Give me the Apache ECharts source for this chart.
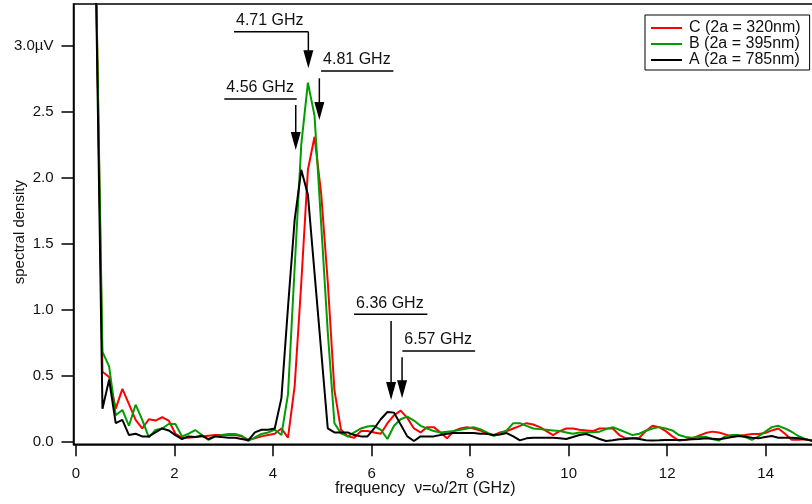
<!DOCTYPE html>
<html>
<head>
<meta charset="utf-8">
<script src="https://cdn.jsdelivr.net/npm/echarts@6/dist/echarts.min.js"></script>
<style>
  html, body { margin: 0; padding: 0; background: #fff; }
  #chart { width: 812px; height: 504px; }
</style>
</head>
<body>
<div id="chart"></div>
<script>
// Frequency grid of the spectra (GHz)
const freq = [
  0.404, 0.538, 0.673, 0.807, 0.942, 1.076, 1.211, 1.345, 1.480, 1.614,
  1.749, 1.883, 2.018, 2.152, 2.287, 2.421, 2.556, 2.690, 2.825, 2.959,
  3.094, 3.228, 3.363, 3.497, 3.632, 3.766, 3.901, 4.035, 4.170, 4.304,
  4.439, 4.573, 4.708, 4.842, 4.977, 5.111, 5.246, 5.380, 5.515, 5.649,
  5.784, 5.918, 6.053, 6.187, 6.322, 6.456, 6.591, 6.725, 6.860, 6.994,
  7.129, 7.263, 7.398, 7.532, 7.667, 7.801, 7.936, 8.070, 8.205, 8.339,
  8.474, 8.608, 8.743, 8.877, 9.012, 9.146, 9.281, 9.415, 9.550, 9.684,
  9.819, 9.953, 10.088, 10.222, 10.357, 10.491, 10.626, 10.760, 10.895, 11.029,
  11.164, 11.298, 11.433, 11.567, 11.702, 11.836, 11.971, 12.105, 12.240, 12.374,
  12.509, 12.643, 12.778, 12.912, 13.047, 13.181, 13.316, 13.450, 13.585, 13.719,
  13.854, 13.988, 14.123, 14.257, 14.392, 14.526, 14.661, 14.795, 14.930, 15.064
];

// Spectral density, sample C (2a = 320 nm)
const densityC = [
  3.6, 0.53, 0.49, 0.25, 0.40, 0.285, 0.165, 0.10, 0.17, 0.16,
  0.185, 0.16, 0.06, 0.03, 0.03, 0.035, 0.04, 0.045, 0.05, 0.05,
  0.05, 0.05, 0.04, 0.015, 0.025, 0.04, 0.05, 0.06, 0.10, 0.03,
  0.42, 1.20, 2.06, 2.31, 1.88, 1.21, 0.39, 0.09, 0.04, 0.03,
  0.08, 0.08, 0.07, 0.06, 0.14, 0.20, 0.235, 0.18, 0.10, 0.07,
  0.11, 0.11, 0.07, 0.025, 0.08, 0.10, 0.11, 0.10, 0.085, 0.06,
  0.05, 0.07, 0.08, 0.10, 0.12, 0.14, 0.13, 0.11, 0.08, 0.05,
  0.08, 0.10, 0.10, 0.09, 0.085, 0.08, 0.10, 0.10, 0.10, 0.05,
  0.025, 0.025, 0.03, 0.08, 0.12, 0.11, 0.08, 0.04, 0.008, 0.015,
  0.025, 0.045, 0.065, 0.076, 0.07, 0.055, 0.04, 0.045, 0.05, 0.058,
  0.058, 0.065, 0.085, 0.10, 0.06, 0.015, 0.015, 0.018, 0.008, 0.005
];

// Spectral density, sample B (2a = 395 nm)
const densityB = [
  3.6, 0.68, 0.57, 0.20, 0.24, 0.12, 0.28, 0.165, 0.033, 0.088,
  0.10, 0.134, 0.134, 0.04, 0.06, 0.088, 0.05, 0.013, 0.04, 0.05,
  0.058, 0.058, 0.045, 0.005, 0.033, 0.058, 0.07, 0.09, 0.05, 0.36,
  1.32, 2.25, 2.72, 2.47, 1.65, 0.83, 0.14, 0.063, 0.04, 0.07,
  0.10, 0.115, 0.12, 0.09, 0.02, 0.12, 0.17, 0.19, 0.16, 0.12,
  0.10, 0.08, 0.07, 0.075, 0.08, 0.09, 0.10, 0.11, 0.095, 0.07,
  0.043, 0.06, 0.085, 0.14, 0.14, 0.12, 0.10, 0.095, 0.09, 0.085,
  0.08, 0.07, 0.06, 0.07, 0.07, 0.072, 0.076, 0.095, 0.11, 0.09,
  0.07, 0.05, 0.06, 0.083, 0.10, 0.11, 0.10, 0.085, 0.05, 0.035,
  0.03, 0.035, 0.038, 0.02, 0.008, 0.04, 0.05, 0.05, 0.035, 0.013,
  0.04, 0.075, 0.11, 0.12, 0.10, 0.075, 0.043, 0.02, 0.008, 0.005
];

// Spectral density, sample A (2a = 785 nm)
const densityA = [
  3.5, 0.25, 0.47, 0.14, 0.165, 0.05, 0.06, 0.04, 0.04, 0.07,
  0.10, 0.085, 0.05, 0.02, 0.04, 0.035, 0.045, 0.02, 0.04, 0.035,
  0.03, 0.03, 0.02, 0.01, 0.07, 0.09, 0.09, 0.10, 0.33, 1.02,
  1.68, 2.06, 1.87, 1.28, 0.69, 0.10, 0.07, 0.07, 0.07, 0.05,
  0.04, 0.04, 0.10, 0.17, 0.225, 0.22, 0.13, 0.04, 0.005, 0.04,
  0.04, 0.04, 0.05, 0.06, 0.065, 0.065, 0.065, 0.065, 0.06, 0.06,
  0.05, 0.055, 0.065, 0.04, 0.01, 0.025, 0.03, 0.03, 0.03, 0.03,
  0.025, 0.02, 0.035, 0.05, 0.058, 0.04, 0.02, 0.005, 0.01, 0.018,
  0.02, 0.025, 0.02, 0.01, 0.008, 0.01, 0.013, 0.013, 0.013, 0.015,
  0.018, 0.02, 0.025, 0.022, 0.018, 0.025, 0.035, 0.043, 0.038, 0.03,
  0.025, 0.035, 0.043, 0.03, 0.03, 0.03, 0.025, 0.018, 0.008, 0.005
];

const seriesNames = ['C (2a = 320nm)', 'B (2a = 395nm)', 'A (2a = 785nm)'];
const xTicks = [0, 2, 4, 6, 8, 10, 12, 14];
const yTicks = [0, 0.5, 1, 1.5, 2, 2.5, 3];
const yTickLabels = ['0.0', '0.5', '1.0', '1.5', '2.0', '2.5', '3.0\u00B5V'];
const peakLabels = ['4.71 GHz', '4.81 GHz', '4.56 GHz', '6.36 GHz', '6.57 GHz'];

// Callout layout in axis units: underline from x0 to x1 at level y,
// arrow at ax running from a0 down to its tip a1.
const calloutLayout = [
  { x0: 3.208, x1: 4.717, y: 3.106, ax: 4.717, a0: 3.106, a1: 2.829 },
  { x0: 4.975, x1: 6.443, y: 2.808, ax: 4.940, a0: 2.753, a1: 2.437 },
  { x0: 3.011, x1: 4.481, y: 2.596, ax: 4.461, a0: 2.551, a1: 2.210 },
  { x0: 5.645, x1: 7.133, y: 0.965, ax: 6.396, a0: 0.914, a1: 0.316 },
  { x0: 6.625, x1: 8.102, y: 0.687, ax: 6.619, a0: 0.639, a1: 0.329 }
];

const FONT = '"Liberation Sans", Arial, Helvetica, sans-serif';
const pairs = ys => freq.map((f, i) => [f, ys[i]]);
// short horizontal bar used as the legend key
const LEGEND_KEY = 'path://M0,0 L31,0 L31,2 L0,2 Z';

const chart = echarts.init(document.getElementById('chart'), null, { renderer: 'canvas' });

const lineSeries = (name, ys, color) => ({
  name: name,
  type: 'line',
  data: pairs(ys),
  symbol: 'none',
  showSymbol: false,
  clip: true,
  lineStyle: { color: color, width: 2 },
  itemStyle: { color: color },
  emphasis: { disabled: true }
});

chart.setOption({
  animation: false,
  textStyle: { fontFamily: FONT },
  grid: {
    left: 73.5, right: -1, top: 4, bottom: 59.7,
    containLabel: false,
    outerBoundsMode: 'none',
    show: true, borderColor: '#000', borderWidth: 1.5, backgroundColor: 'transparent'
  },
  legend: {
    data: seriesNames.map(n => ({ name: n, icon: LEGEND_KEY })),
    orient: 'vertical',
    left: 645, top: 15,
    padding: [5, 9, 2, 6],
    itemGap: 0, itemWidth: 31, itemHeight: 19,
    borderColor: '#000', borderWidth: 1, borderRadius: 0,
    backgroundColor: '#fff',
    selectedMode: false,
    textStyle: { fontSize: 16, color: '#111', fontFamily: FONT, padding: [0, 0, 0, 2] }
  },
  xAxis: {
    type: 'value',
    min: -0.05, max: 14.96,
    name: 'frequency  \u03BD=\u03C9/2\u03C0 (GHz)',
    nameLocation: 'middle',
    nameGap: 36,
    nameMoveOverlap: false,
    nameTextStyle: { fontSize: 16, color: '#111', fontFamily: FONT, padding: [0, 36, 0, 0] },
    axisLine: { show: true, onZero: false, lineStyle: { color: '#000', width: 1.5 } },
    axisTick: { show: true, inside: false, length: 12, customValues: xTicks, lineStyle: { color: '#000', width: 1.5 } },
    axisLabel: { customValues: xTicks, margin: 22, fontSize: 15, color: '#111', fontFamily: FONT },
    splitLine: { show: false }
  },
  yAxis: {
    type: 'value',
    min: -0.02, max: 3.316,
    name: 'spectral density',
    nameLocation: 'middle',
    nameGap: 46,
    nameRotate: 90,
    nameMoveOverlap: false,
    nameTextStyle: { fontSize: 15, color: '#111', fontFamily: FONT, padding: [0, 16, 0, 0] },
    axisLine: { show: true, onZero: false, lineStyle: { color: '#000', width: 1.5 } },
    axisTick: { show: true, inside: false, length: 12, customValues: yTicks, lineStyle: { color: '#000', width: 1.5 } },
    axisLabel: {
      customValues: yTicks, margin: 20, fontSize: 15, color: '#111', fontFamily: FONT,
      formatter: v => yTickLabels[yTicks.indexOf(v)]
    },
    splitLine: { show: false }
  },
  series: [
    lineSeries(seriesNames[0], densityC, '#ff0000'),
    lineSeries(seriesNames[1], densityB, '#009c00'),
    lineSeries(seriesNames[2], densityA, '#000000')
  ]
});

// Peak callouts: underlined label with a downward arrow to the peak
const toPx = p => chart.convertToPixel({ gridIndex: 0 }, p);
const calloutElements = [];
calloutLayout.forEach((c, i) => {
  const L = toPx([c.x0, c.y]);
  const R = toPx([c.x1, c.y]);
  const A = toPx([c.ax, c.a0]);
  const T = toPx([c.ax, c.a1]);
  const headLen = 18, headHalf = 5;
  calloutElements.push({
    type: 'line', silent: true, z: 100,
    shape: { x1: L[0], y1: L[1], x2: R[0], y2: R[1] },
    style: { stroke: '#000', lineWidth: 1.5 }
  });
  calloutElements.push({
    type: 'line', silent: true, z: 100,
    shape: { x1: A[0], y1: A[1], x2: T[0], y2: T[1] - headLen + 2 },
    style: { stroke: '#000', lineWidth: 1.5 }
  });
  calloutElements.push({
    type: 'polygon', silent: true, z: 100,
    shape: { points: [[T[0] - headHalf, T[1] - headLen], [T[0] + headHalf, T[1] - headLen], [T[0], T[1]]] },
    style: { fill: '#000' }
  });
  calloutElements.push({
    type: 'text', silent: true, z: 100,
    x: L[0] + 2, y: L[1] - 3,
    style: { text: peakLabels[i], font: '16px ' + FONT, fill: '#111', align: 'left', verticalAlign: 'bottom' }
  });
});
chart.setOption({ graphic: calloutElements });
</script>
</body>
</html>
